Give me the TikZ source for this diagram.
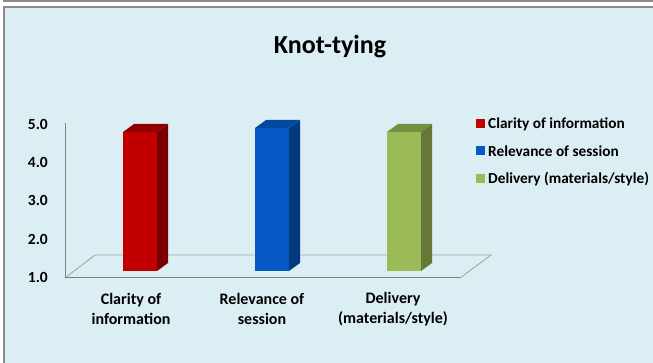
\documentclass[tikz,border=0pt]{standalone}
\usepackage{fontspec}
\setmainfont{Carlito}
\definecolor{bgc}{HTML}{DBEEF4}
\definecolor{frame}{HTML}{8C8C8C}
\definecolor{redF}{HTML}{C00000}
\definecolor{redS}{HTML}{780000}
\definecolor{redT}{HTML}{8E0000}
\definecolor{bluF}{HTML}{0757C4}
\definecolor{bluS}{HTML}{023A7E}
\definecolor{bluT}{HTML}{03479F}
\definecolor{grnF}{HTML}{9BBB59}
\definecolor{grnS}{HTML}{657838}
\definecolor{grnT}{HTML}{75903F}
\newcommand\mybar[4]{% x1, top, front, side/top prefix
  \fill[#4S] (#1+34,#2) -- (#1+45,#2-8) -- (#1+45,263) -- (#1+34,271) -- cycle;
  \fill[#4T] (#1,#2) -- (#1+11,#2-8) -- (#1+45,#2-8) -- (#1+34,#2) -- cycle;
  \fill[#4F] (#1,#2) rectangle (#1+34,271);
}
\tikzset{
  ticklbl/.style={anchor=east, font=\bfseries\fontsize{15.5}{17}\selectfont, inner sep=0pt},
  catlbl/.style={align=center, font=\bfseries\fontsize{16}{20}\selectfont, inner sep=0pt},
  leglbl/.style={anchor=west, font=\bfseries\fontsize{15.3}{17}\selectfont, inner sep=0pt},
  swatch/.style={minimum size=9pt, inner sep=0pt, anchor=west},
}
\begin{document}
\begin{tikzpicture}[x=1pt,y=-1pt]
\useasboundingbox (0,0) rectangle (653,363);
\fill[white] (0,0) rectangle (653,363);
\fill[bgc] (4,7) rectangle (653,363);
\draw[frame, line width=1.6pt] (3,0.8) -- (653,0.8);
\draw[frame, line width=2.4pt] (4,363) -- (4,7) -- (653,7);
% title
\node[font=\bfseries\fontsize{26}{30}\selectfont] (title) at (330,47) {Knot-tying};
% floor and axis
\coordinate (fl) at (65,278);
\coordinate (fr) at (460,278);
\coordinate (bl) at (95,255);
\coordinate (br) at (491,255);
\coordinate (axtop) at (65,123);
\draw[gray!70, line width=0.9pt] (fl) -- (bl) -- (br) -- (fr);
\draw[gray, line width=1pt] (axtop) -- (fl) -- (fr);
% tick labels
\node[ticklbl] (t5) at (48,124) {5.0};
\node[ticklbl] (t4) at (48,162) {4.0};
\node[ticklbl] (t3) at (48,200) {3.0};
\node[ticklbl] (t2) at (48,239) {2.0};
\node[ticklbl] (t1) at (48,277) {1.0};
% bars
\mybar{123}{132}{}{red}
\mybar{255}{128}{}{blu}
\mybar{387}{132}{}{grn}
% category labels
\node[catlbl] (c1) at (131,309) {Clarity of\\information};
\node[catlbl] (c2) at (262,309) {Relevance of\\session};
\node[catlbl] (c3) at (393,309) {Delivery\\(materials/style)};
% legend
\node[swatch, fill=redF] (s1) at (476,124) {};
\node[leglbl] (l1) at (488,124) {Clarity of information};
\node[swatch, fill=bluF] (s2) at (476,151) {};
\node[leglbl] (l2) at (488,151) {Relevance of session};
\node[swatch, fill=grnF] (s3) at (476,179) {};
\node[leglbl] (l3) at (488,179) {Delivery (materials/style)};
\end{tikzpicture}
\end{document}
